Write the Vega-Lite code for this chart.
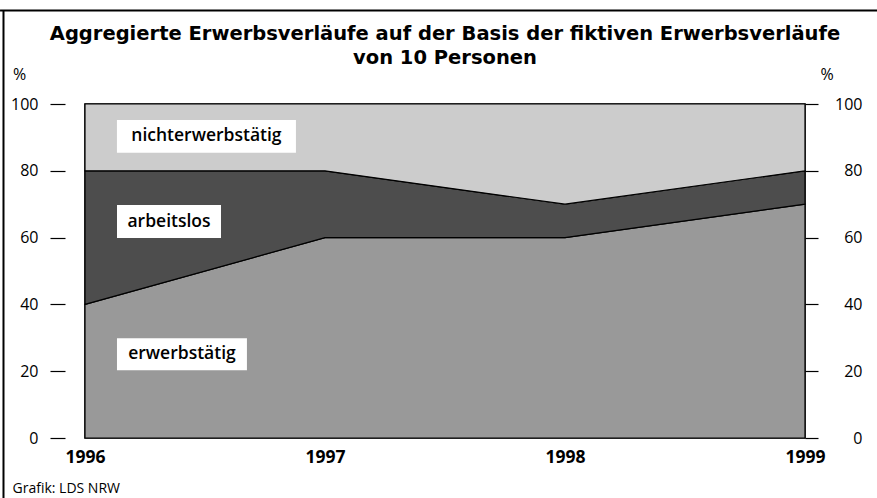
{
  "$schema": "https://vega.github.io/schema/vega-lite/v6.json",
  "width": 720,
  "height": 334,
  "autosize": {"type": "none"},
  "padding": {"left": 85, "top": 104, "right": 72, "bottom": 60},
  "background": "white",
  "config": {
    "view": {"stroke": "black", "strokeWidth": 1.5},
    "font": "Open Sans"
  },
  "title": {
    "text": ["Aggregierte Erwerbsverläufe auf der Basis der fiktiven Erwerbsverläufe", "von 10 Personen"],
    "font": "DejaVu Sans",
    "fontSize": 19.5,
    "fontWeight": "bold",
    "color": "black",
    "anchor": "middle",
    "lineHeight": 24,
    "offset": -59
  },
  "datasets": {
    "areas": [
      {"year": 1996, "category": "erwerbstätig", "ord": 1, "value": 40},
      {"year": 1997, "category": "erwerbstätig", "ord": 1, "value": 60},
      {"year": 1998, "category": "erwerbstätig", "ord": 1, "value": 60},
      {"year": 1999, "category": "erwerbstätig", "ord": 1, "value": 70},
      {"year": 1996, "category": "arbeitslos", "ord": 2, "value": 40},
      {"year": 1997, "category": "arbeitslos", "ord": 2, "value": 20},
      {"year": 1998, "category": "arbeitslos", "ord": 2, "value": 10},
      {"year": 1999, "category": "arbeitslos", "ord": 2, "value": 10},
      {"year": 1996, "category": "nichterwerbstätig", "ord": 3, "value": 20},
      {"year": 1997, "category": "nichterwerbstätig", "ord": 3, "value": 20},
      {"year": 1998, "category": "nichterwerbstätig", "ord": 3, "value": 30},
      {"year": 1999, "category": "nichterwerbstätig", "ord": 3, "value": 20}
    ],
    "labels": [
      {"label": "nichterwerbstätig", "year": 1996.506, "pct": 90.3},
      {"label": "arbeitslos", "year": 1996.35, "pct": 64.8},
      {"label": "erwerbstätig", "year": 1996.404, "pct": 25.1}
    ]
  },
  "layer": [
    {
      "data": {"name": "areas"},
      "mark": {"type": "area", "stroke": "black", "strokeWidth": 1.2, "opacity": 1},
      "encoding": {
        "x": {
          "field": "year", "type": "quantitative",
          "scale": {"domain": [1996, 1999], "nice": false, "zero": false},
          "axis": {
            "values": [1996, 1997, 1998, 1999], "format": "d",
            "ticks": false, "domain": false, "grid": false,
            "labelFont": "Open Sans", "labelFontSize": 17.5, "labelFontWeight": "bold",
            "labelColor": "black", "labelPadding": 10, "labelFlush": false,
            "title": "Grafik: LDS NRW", "titleFont": "Open Sans", "titleFontSize": 14,
            "titleFontWeight": "normal", "titleColor": "black",
            "titleAnchor": "start", "titleAlign": "left", "titleBaseline": "alphabetic",
            "titleX": -73, "titleY": 54
          }
        },
        "y": {
          "field": "value", "type": "quantitative", "stack": "zero",
          "scale": {"domain": [0, 100], "nice": false},
          "axis": {
            "orient": "left", "offset": 20, "tickSize": 15, "domain": false, "grid": false,
            "values": [0, 20, 40, 60, 80, 100], "labelPadding": 12,
            "labelFont": "Open Sans", "labelFontSize": 16, "labelColor": "black",
            "tickColor": "black", "tickWidth": 1.2,
            "title": "%", "titleAngle": 0, "titleFont": "Open Sans", "titleFontSize": 16,
            "titleFontWeight": "normal", "titleColor": "black",
            "titleAlign": "center", "titleBaseline": "middle", "titleX": -46, "titleY": -30
          }
        },
        "color": {
          "field": "category", "type": "nominal",
          "scale": {"domain": ["erwerbstätig", "arbeitslos", "nichterwerbstätig"], "range": ["#999999", "#4d4d4d", "#cccccc"]},
          "legend": null
        },
        "order": {"field": "ord", "type": "quantitative", "sort": "ascending"}
      }
    },
    {
      "data": {"name": "labels"},
      "mark": {"type": "point", "filled": true, "fill": "white", "opacity": 1, "strokeWidth": 0, "size": 32041},
      "encoding": {
        "x": {"field": "year", "type": "quantitative"},
        "y": {
          "field": "pct", "type": "quantitative",
          "axis": {
            "orient": "right", "offset": 0, "tickSize": 13, "domain": false, "grid": false,
            "values": [0, 20, 40, 60, 80, 100], "labelPadding": 44, "labelAlign": "right",
            "labelFont": "Open Sans", "labelFontSize": 16, "labelColor": "black",
            "tickColor": "black", "tickWidth": 1.2,
            "title": "%", "titleAngle": 0, "titleFont": "Open Sans", "titleFontSize": 16,
            "titleFontWeight": "normal", "titleColor": "black",
            "titleAlign": "center", "titleBaseline": "middle", "titleX": 21.5, "titleY": -30
          }
        },
        "shape": {
          "field": "label", "type": "nominal",
          "scale": {
            "domain": ["nichterwerbstätig", "arbeitslos", "erwerbstätig"],
            "range": ["M-1,-0.184L1,-0.184L1,0.184L-1,0.184Z", "M-0.581,-0.184L0.581,-0.184L0.581,0.184L-0.581,0.184Z", "M-0.726,-0.179L0.726,-0.179L0.726,0.179L-0.726,0.179Z"]
          },
          "legend": null
        }
      }
    },
    {
      "data": {"name": "labels"},
      "mark": {"type": "text", "font": "Open Sans", "fontSize": 17.5, "fontWeight": 600, "color": "black", "align": "center", "baseline": "middle"},
      "encoding": {
        "x": {"field": "year", "type": "quantitative"},
        "y": {"field": "pct", "type": "quantitative", "axis": null},
        "text": {"field": "label"}
      }
    },
    {
      "data": {"values": [{}]},
      "mark": {"type": "rule", "color": "black", "strokeWidth": 2, "clip": false},
      "encoding": {
        "x": {"datum": 1995.646, "type": "quantitative"},
        "x2": {"datum": 1999.31},
        "y": {"datum": 128.0, "type": "quantitative", "axis": null}
      }
    },
    {
      "data": {"values": [{}]},
      "mark": {"type": "rule", "color": "black", "strokeWidth": 2, "clip": false},
      "encoding": {
        "x": {"datum": 1995.6604, "type": "quantitative"},
        "y": {"datum": 128.0, "type": "quantitative", "axis": null},
        "y2": {"datum": -20}
      }
    }
  ],
  "resolve": {"axis": {"y": "independent"}}
}
